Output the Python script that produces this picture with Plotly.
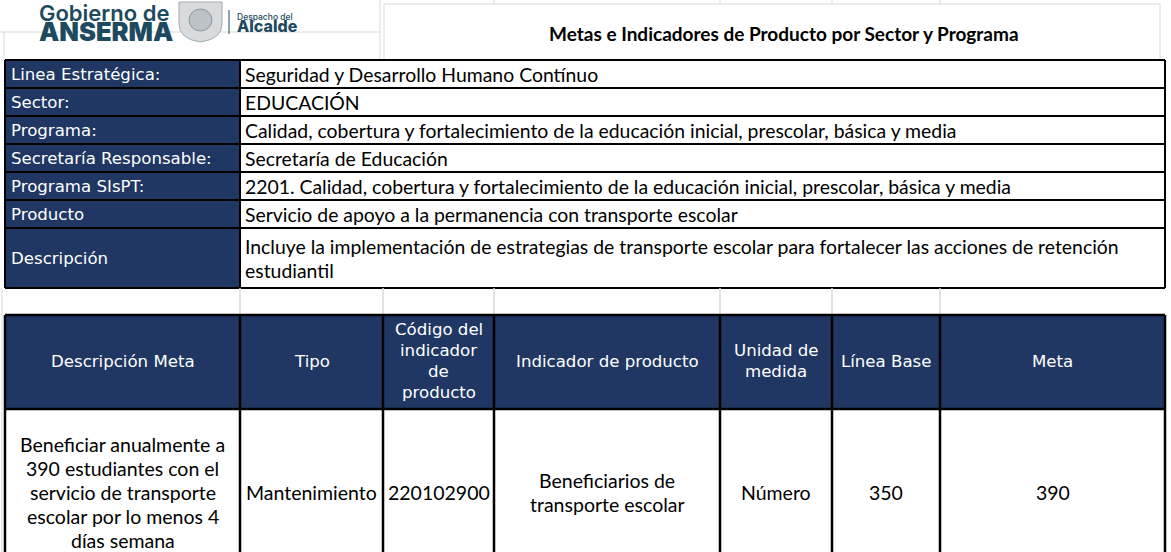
import plotly.graph_objects as go

# ---------------- data ----------------
title_text = "Metas e Indicadores de Producto por Sector y Programa"
logo_main = ["Gobierno de", "ANSERMA"]
logo_side = ["Despacho del", "Alcalde"]

info_labels = [
    "Linea Estratégica:",
    "Sector:",
    "Programa:",
    "Secretaría Responsable:",
    "Programa SIsPT:",
    "Producto",
    "Descripción",
]
info_values = [
    "Seguridad y Desarrollo Humano Contínuo",
    "EDUCACIÓN",
    "Calidad, cobertura y fortalecimiento de la educación inicial, prescolar, básica y media",
    "Secretaría de Educación",
    "2201. Calidad, cobertura y fortalecimiento de la educación inicial, prescolar, básica y media",
    "Servicio de apoyo a la permanencia con transporte escolar",
    "Incluye la implementación de estrategias de transporte escolar para fortalecer las acciones de retención<br>estudiantil",
]
meta_headers = [
    "Descripción Meta",
    "Tipo",
    "Código del<br>indicador<br>de<br>producto",
    "Indicador de producto",
    "Unidad de<br>medida",
    "Línea Base",
    "Meta",
]
meta_values = [
    "Beneficiar anualmente a<br>390 estudiantes con el<br>servicio de transporte<br>escolar por lo menos 4<br>días semana",
    "Mantenimiento",
    "220102900",
    "Beneficiarios de<br>transporte escolar",
    "Número",
    "350",
    "390",
]

# ---------------- layout constants ----------------
W, H = 1171, 552
NAVY = "#203764"
LOGO = "#1d4a5e"
GRID = "#d9d9d9"
col_edges = [5, 240, 383, 494, 720, 832, 940, 1165]
info_top = 60
info_row_h = [28, 28, 28, 28, 28, 28, 60]
blank_h = 27
header_h = 94
data_h = 166

LABEL_FONT = dict(family="DejaVu Sans", size=16.6, color="white")
VALUE_FONT = dict(family="Lato", size=19.4, color="black")
HEAD_FONT = dict(family="DejaVu Sans", size=16.6, color="white")
DATA_FONT = dict(family="Lato", size=19.5, color="black")

info_edges = [info_top]
for h in info_row_h:
    info_edges.append(info_edges[-1] + h)
info_bottom = info_edges[-1]
header_top = info_bottom + blank_h
header_bottom = header_top + header_h
data_bottom = header_bottom + data_h

shapes = []
annotations = []


def line(x0, y0, x1, y1, color="black", width=2):
    shapes.append(dict(type="line", xref="x", yref="y", x0=x0, y0=y0, x1=x1, y1=y1,
                       line=dict(color=color, width=width), layer="above"))


def rect(x0, y0, x1, y1, fill):
    shapes.append(dict(type="rect", xref="x", yref="y", x0=x0, y0=y0, x1=x1, y1=y1,
                       fillcolor=fill, line=dict(width=0), layer="below"))


def text_block(txt, x, yc, font, spacing, anchor="left", weight=None):
    lines = txt.split("<br>")
    n = len(lines)
    for i, t in enumerate(lines):
        y = yc + (i - (n - 1) / 2) * spacing
        f = dict(font)
        if weight:
            f["weight"] = weight
        annotations.append(dict(text=t, x=x, y=y, xref="x", yref="y", showarrow=False,
                                xanchor=anchor, yanchor="middle", font=f))


def stacked(parts, sizes, weights, x, yc, base_size):
    # two-line logo text: tight line spacing driven by a small base font
    txt = "<br>".join(
        f"<span style='font-size:{s}px;font-weight:{w}'>{p}</span>"
        for p, s, w in zip(parts, sizes, weights))
    annotations.append(dict(text=txt, x=x, y=yc, xref="x", yref="y", showarrow=False,
                            xanchor="left", yanchor="middle", align="left",
                            font=dict(family="Inter", size=base_size, color=LOGO)))


# ---- spreadsheet gridlines in the header area ----
line(0, 32, 380, 32, GRID, 1)
line(4, 32, 4, info_top, GRID, 1)
line(380, 0, 380, info_top, GRID, 1)
line(384, 4, 1160, 4, GRID, 1)
for xe in col_edges[3:-1]:
    line(xe, 0, xe, 4, GRID, 1)
line(384, 4, 384, info_top, GRID, 1)
line(1160, 4, 1160, info_top, GRID, 1)

# ---- logo (text based) ----
rect(10, 0, 343, 46, "white")
stacked(logo_main, [22, 25.5], [600, 900], 37, 23, 15)
shapes.append(dict(type="path", xref="x", yref="y",
                   path="M 179 2 L 222 2 L 222 24 Q 222 39 200.5 42 Q 179 39 179 24 Z",
                   fillcolor="#d7dbde", line=dict(color="#a3abb1", width=1), layer="above"))
shapes.append(dict(type="circle", xref="x", yref="y", x0=189, y0=9, x1=212, y1=31,
                   fillcolor="#bcc3c8", line=dict(color="#8d969d", width=1), layer="above"))
line(229, 10, 229, 34, LOGO, 1)
stacked(logo_side, [8.5, 16], [500, 800], 235, 24, 9.5)

# ---- title ----
text_block(title_text, 784, 33, dict(family="Lato", size=19, color="black"), 0,
           anchor="center", weight=700)

# ---- info table ----
rect(col_edges[0], info_top, col_edges[1], info_bottom, NAVY)
for i, (lab, val) in enumerate(zip(info_labels, info_values)):
    yc = (info_edges[i] + info_edges[i + 1]) / 2
    text_block(lab, col_edges[0] + 4, yc, LABEL_FONT, 21)
    text_block(val, col_edges[1] + 3, yc, VALUE_FONT, 24)
for ye in info_edges:
    line(col_edges[0], ye, col_edges[-1], ye, "black", 2)
for xe in (col_edges[0], col_edges[1], col_edges[-1]):
    line(xe, info_top, xe, info_bottom, "black", 2)

# ---- blank spreadsheet row ----
line(2, info_bottom, 2, H, GRID, 1)
for xe in col_edges[1:-1]:
    line(xe, info_bottom, xe, header_top, GRID, 1.5)

# ---- meta table ----
rect(col_edges[0], header_top, col_edges[-1], header_bottom, NAVY)
for j, (hd, dv) in enumerate(zip(meta_headers, meta_values)):
    xc = (col_edges[j] + col_edges[j + 1]) / 2
    text_block(hd, xc, (header_top + header_bottom) / 2 - 1, HEAD_FONT, 21, anchor="center")
    text_block(dv, xc, (header_bottom + data_bottom) / 2, DATA_FONT, 24, anchor="center")
for ye in (header_top, header_bottom, data_bottom):
    line(col_edges[0], ye, col_edges[-1], ye, "black", 2.5)
for xe in col_edges:
    line(xe, header_top, xe, data_bottom, "black", 2.5)

# ---- figure ----
fig = go.Figure()
fig.add_trace(go.Scatter(x=[0, W], y=[0, H], mode="markers", marker=dict(opacity=0),
                         hoverinfo="skip", showlegend=False))
fig.update_layout(
    width=W, height=H, autosize=False,
    margin=dict(l=0, r=0, t=0, b=0),
    paper_bgcolor="white", plot_bgcolor="white",
    xaxis=dict(range=[0, W], visible=False, fixedrange=True),
    yaxis=dict(range=[H, 0], visible=False, fixedrange=True),
    shapes=shapes, annotations=annotations, showlegend=False,
)
fig.write_html("out.html", config=dict(displayModeBar=False, staticPlot=True),
               post_script="document.body.style.margin='0';document.body.style.overflow='hidden';")
